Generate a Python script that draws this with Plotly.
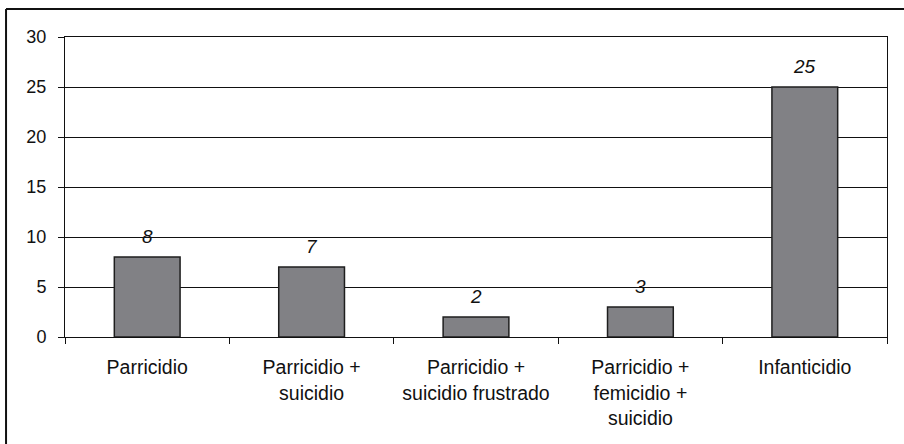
import plotly.graph_objects as go

categories = ["Parricidio", "Parricidio +<br>suicidio", "Parricidio +<br>suicidio frustrado",
              "Parricidio +<br>femicidio +<br>suicidio", "Infanticidio"]
values = [8, 7, 2, 3, 25]
y_ticks = [0, 5, 10, 15, 20, 25, 30]

W, H = 904, 444
ML, MR, MT, MB = 65, 16.5, 37, 107
pw, ph = W - ML - MR, H - MT - MB

fig = go.Figure()
fig.add_trace(go.Bar(
    x=categories, y=values, width=0.4,
    marker=dict(color="#818185", line=dict(color="#1e1e1e", width=1.5)),
))

for c, v in zip(categories, values):
    fig.add_annotation(x=c, y=v, text=str(v), showarrow=False, yanchor="bottom",
                       yshift=8, font=dict(family="Liberation Sans, Arial", size=19, color="#111",
                                           style="italic"))

# outer frame (left and top edges visible)
fx = (6 - ML) / pw
fy = 1 + (MT - 9) / ph
fig.add_shape(type="line", xref="paper", yref="paper", x0=fx, x1=fx, y0=fy, y1=-1,
              line=dict(color="#111", width=2))
fig.add_shape(type="line", xref="paper", yref="paper", x0=fx, x1=2, y0=fy, y1=fy,
              line=dict(color="#111", width=2))

fig.update_layout(
    width=W, height=H,
    margin=dict(l=ML, r=MR, t=MT, b=MB),
    paper_bgcolor="white", plot_bgcolor="white",
    showlegend=False,
    font=dict(family="Liberation Sans, Arial", color="#111"),
)
fig.update_xaxes(
    type="category", showline=True, linecolor="#111", linewidth=1, mirror=True,
    ticks="outside", tickson="boundaries", ticklen=6, tickcolor="#111",
    tickfont=dict(size=19.5), showgrid=False, ticklabelstandoff=13,
)
fig.update_yaxes(
    range=[0, 30], tickvals=y_ticks, showline=True, linecolor="#111", linewidth=1, mirror=True,
    ticks="outside", ticklen=6, tickcolor="#111", tickfont=dict(size=18),
    showgrid=True, gridcolor="#111", gridwidth=1, zeroline=False, ticklabelstandoff=8,
)
fig.write_html("out.html", config={"displayModeBar": False},
               post_script="document.body.style.margin='0';document.body.style.overflow='hidden';")
